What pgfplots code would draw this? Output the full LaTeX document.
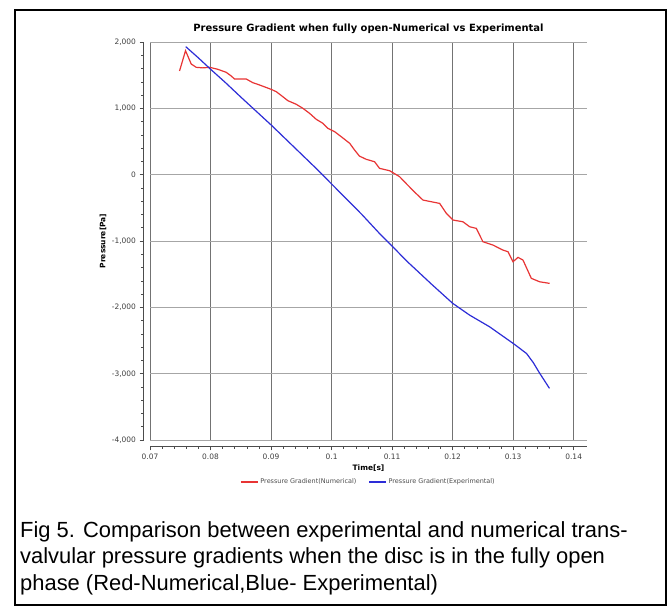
\documentclass[border=0pt]{standalone}
\usepackage{fontspec}
\setmainfont{DejaVu Sans}
\newfontfamily\capfont{Liberation Sans}
\usepackage{pgfplots}
\pgfplotsset{compat=1.18}
\definecolor{numred}{RGB}{232,52,52}
\definecolor{expblue}{RGB}{45,45,215}
\begin{document}
\begin{tikzpicture}
\useasboundingbox (0,0) rectangle (668bp,607bp);
\fill[white] (0,0) rectangle (668bp,607bp);
\draw[black, line width=1.5bp] (15bp,2bp) rectangle (666bp,597bp);
\node[font=\fontsize{10}{12}\selectfont\bfseries] at (368.5bp,578bp) {Pressure Gradient when fully open-Numerical vs Experimental};
\begin{axis}[
  scale only axis, width=437bp, height=398bp,
  at={(150bp,167bp)}, anchor=south west,
  xmin=0.07, xmax=0.1422, ymin=-4000, ymax=2000,
  axis x line*=bottom, axis y line*=left,
  axis x line shift=6.5bp, axis y line shift=6.5bp,
  axis line style={-, black!70, line width=0.6bp},
  tick align=outside,
  major tick length=4bp, minor tick length=2.5bp,
  every tick/.style={black!70, line width=0.5bp},
  xtick={0.07,0.08,0.09,0.1,0.11,0.12,0.13,0.14},
  xticklabels={0.07,0.08,0.09,0.1,0.11,0.12,0.13,0.14},
  ytick={-4000,-3000,-2000,-1000,0,1000,2000},
  minor x tick num=4, minor y tick num=4,
  /pgf/number format/assume math mode=true,
  /pgf/number format/1000 sep={,},
  ticklabel style={font=\fontsize{7.5}{9}\selectfont, text=black!75},
  grid=major,
  major x grid style={black!55, line width=0.6bp},
  major y grid style={black!35, line width=0.6bp},
  xlabel={Time[s]}, ylabel={Pressure[Pa]},
  label style={font=\fontsize{7.5}{9}\selectfont\bfseries},
  xlabel style={at={(axis description cs:0.5,-0.0704)}, anchor=center},
  ylabel style={at={(axis description cs:-0.1076,0.5)}, anchor=center},
  legend style={at={(0.5,-0.1055)}, anchor=center, draw=none, fill=none,
    legend columns=2, font=\fontsize{6.5}{8}\selectfont, text=black!70,
    /tikz/every even column/.append style={column sep=10bp}},
]
\addplot[numred, line width=1.2bp] coordinates {
(0.07488,1563) (0.07587,1869) (0.07681,1668) (0.07764,1618) (0.07873,1610)
(0.07988,1618) (0.08121,1588) (0.08259,1543) (0.08342,1487) (0.08397,1442)
(0.0859,1442) (0.087,1386) (0.0881,1352) (0.09,1287) (0.09086,1251)
(0.09195,1175) (0.09278,1115) (0.09416,1061) (0.09526,1000) (0.09636,925)
(0.09747,834) (0.09856,774) (0.09939,699) (0.1005,648) (0.1016,572)
(0.1030,472) (0.1038,371) (0.1046,280) (0.10574,231) (0.1071,195)
(0.10793,95) (0.1096,59) (0.11124,-31) (0.1125,-150) (0.1138,-270)
(0.1151,-383) (0.11785,-433) (0.11896,-583) (0.12005,-684) (0.1217,-710)
(0.12281,-785) (0.12392,-810) (0.125,-1011) (0.12666,-1061) (0.12831,-1137)
(0.12914,-1162) (0.12997,-1313) (0.1308,-1247) (0.13162,-1287) (0.133,-1563)
(0.13438,-1615) (0.13603,-1639)
};
\addlegendentry{Pressure Gradient(Numerical)}
\addplot[expblue, line width=1.2bp] coordinates {
(0.0759,1930) (0.078,1760) (0.08,1590) (0.0825,1385) (0.085,1170)
(0.0875,960) (0.09,750) (0.0925,530) (0.095,310) (0.0975,90)
(0.1,-140) (0.1025,-370) (0.105,-600) (0.1079,-885) (0.1101,-1086)
(0.1125,-1310) (0.114,-1437) (0.1165,-1650) (0.12,-1939) (0.1228,-2117)
(0.1261,-2293) (0.13,-2544) (0.1322,-2695) (0.1333,-2830) (0.1344,-2996)
(0.136,-3222)
};
\addlegendentry{Pressure Gradient(Experimental)}
\end{axis}
\begin{scope}[every node/.style={anchor=base west, inner sep=0pt, font=\capfont\fontsize{22}{26}\selectfont}]
\node at (20bp,69bp) {Fig 5. Comparison between experimental and numerical trans-};
\node at (20bp,43bp) {valvular pressure gradients when the disc is in the fully open};
\node at (20bp,17bp) {phase (Red-Numerical,Blue- Experimental)};
\end{scope}
\end{tikzpicture}
\end{document}
